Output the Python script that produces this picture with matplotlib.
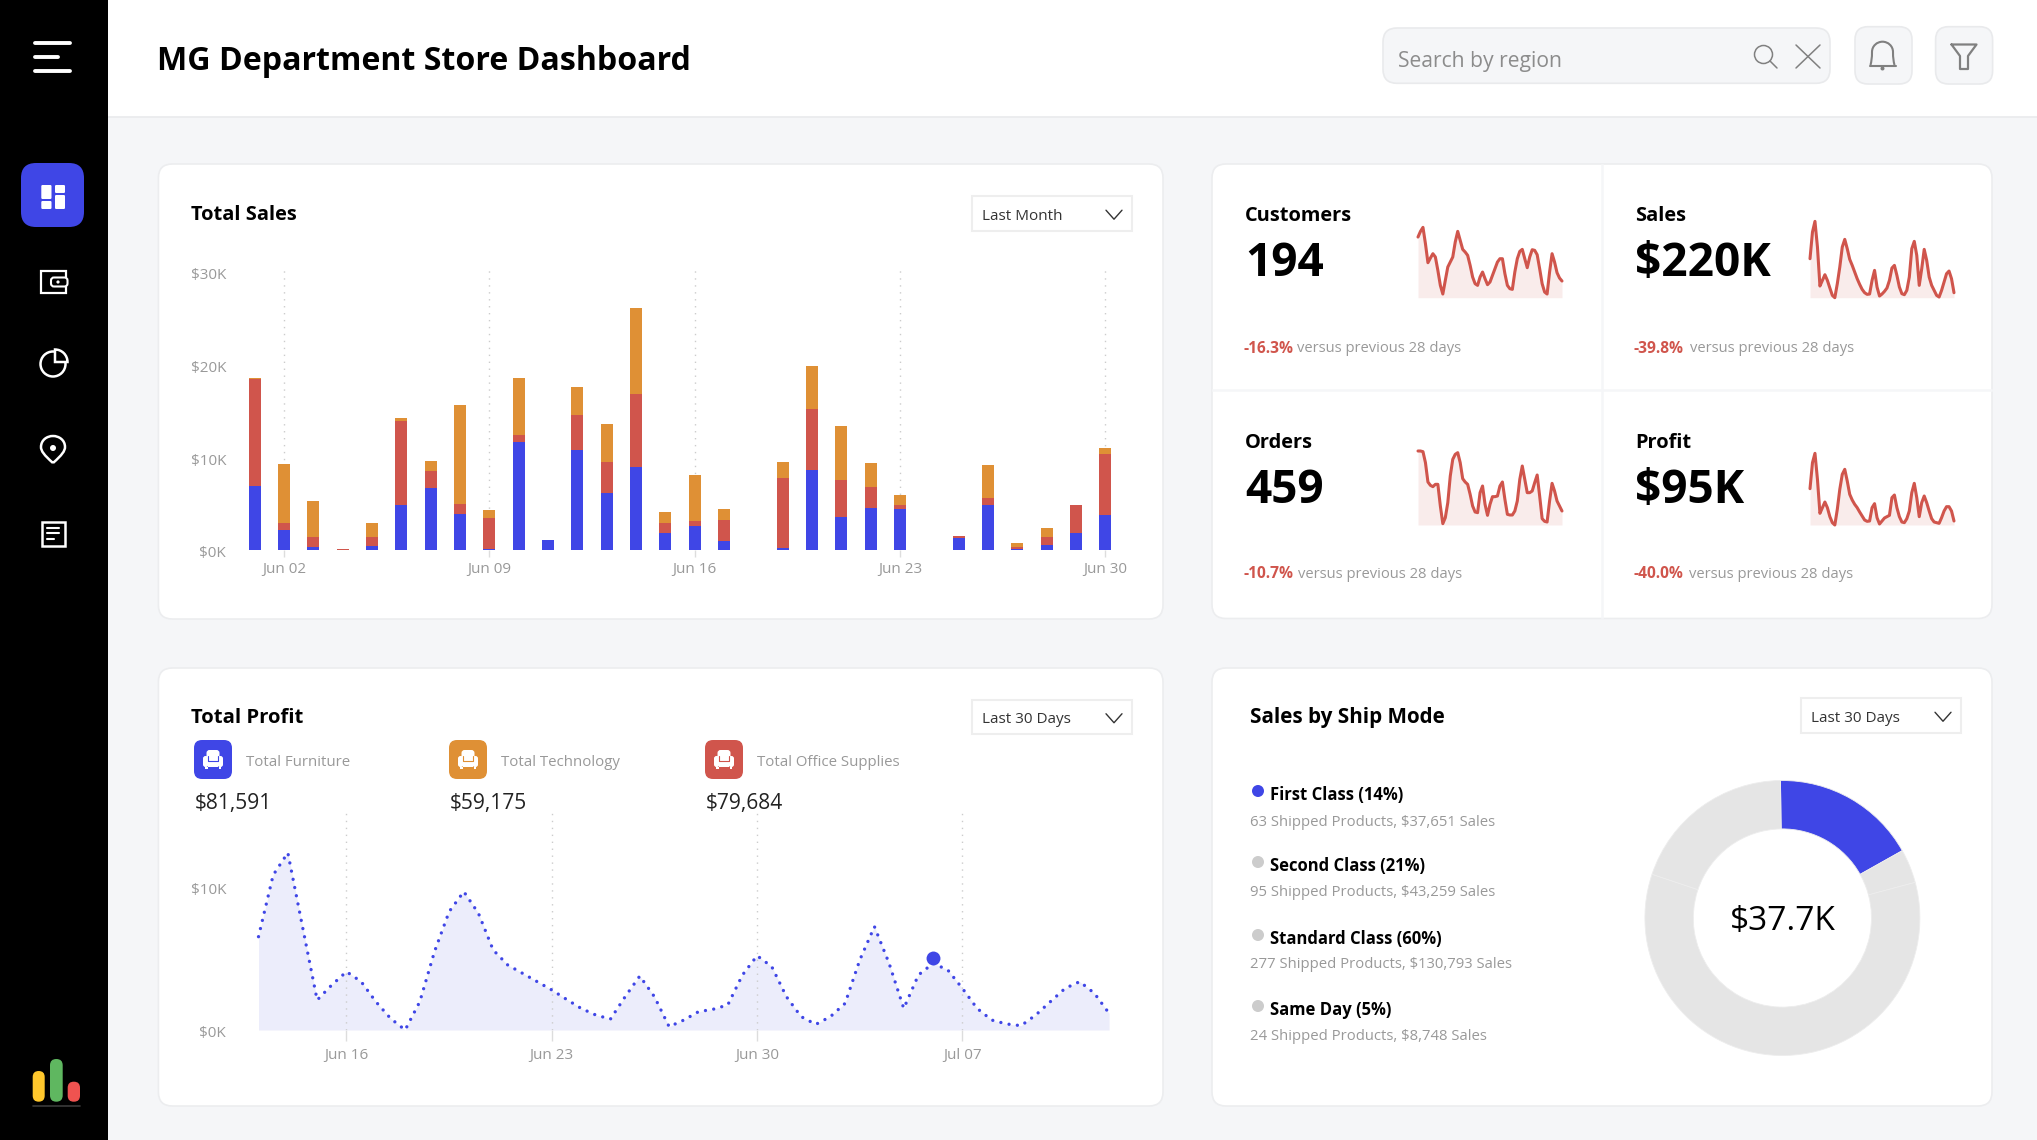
#!/usr/bin/env python3
import numpy as np
import matplotlib
matplotlib.use("Agg")
import matplotlib.pyplot as plt
from matplotlib.patches import FancyBboxPatch, Rectangle, Circle, Wedge, PathPatch
from matplotlib.path import Path
from matplotlib.transforms import ScaledTranslation

plt.rcParams['font.family'] = ['Open Sans', 'DejaVu Sans']

W, H = 2037, 1140

BLUE = '#3F46E6'
RED = '#D0554C'
ORANGE = '#DF9035'
GREY = '#999999'
LINE = '#ECEDEF'
BACK = '#F5F6F8'

# Total Sales, thousands of dollars per day in June
sales_days = list(range(1, 31))
sales_furniture = [6.9, 2.2, 0.3, 0.0, 0.45, 4.9, 6.65, 3.85, 0.1, 11.7, 1.08, 10.75, 6.2, 8.9, 1.8,
                   2.6, 0.95, 0.0, 0.25, 8.65, 3.55, 4.55, 4.45, 0.0, 1.3, 4.8, 0.1, 0.55, 1.8, 3.8]
sales_office = [11.5, 0.7, 1.1, 0.1, 1.0, 9.0, 1.9, 1.15, 3.4, 0.7, 0.0, 3.8, 3.25, 7.9, 1.15,
                0.55, 2.25, 0.05, 7.5, 6.6, 4.05, 2.25, 0.35, 0.0, 0.2, 0.85, 0.2, 0.85, 3.05, 6.6]
sales_technology = [0.15, 6.4, 3.9, 0.03, 1.5, 0.3, 1.1, 10.65, 0.85, 6.1, 0.0, 3.0, 4.15, 9.35, 1.1,
                    4.9, 1.2, 0.0, 1.75, 4.55, 5.75, 2.6, 1.1, 0.0, 0.05, 3.5, 0.45, 0.95, 0.05, 0.6]
sales_tick_days = [2, 9, 16, 23, 30]
sales_tick_labels = ['Jun 02', 'Jun 09', 'Jun 16', 'Jun 23', 'Jun 30']
sales_y_ticks = [0, 10, 20, 30]
sales_y_labels = ['$0K', '$10K', '$20K', '$30K']

# Total Profit, thousands of dollars, two readings per day from Jun 13
profit_values = [6.48, 10.76, 12.31, 7.18, 2.08, 3.13, 4.05, 3.36, 1.97, 0.81, 0.0, 1.97, 5.44, 8.22, 9.61,
                 8.10, 5.56, 4.51, 3.94, 3.36, 2.78, 2.13, 1.50, 1.04, 0.76, 2.31, 3.75, 2.31, 0.23, 0.69,
                 1.27, 1.44, 1.74, 3.82, 5.16, 4.40, 2.31, 0.93, 0.39, 0.93, 1.85, 4.86, 7.18, 4.63, 1.50,
                 3.82, 4.63, 4.17, 2.89, 1.50, 0.69, 0.42, 0.30, 1.04, 1.97, 2.89, 3.36, 2.55, 1.16]
profit_marker_day = 23
profit_marker_value = 5.02
profit_tick_days = [3, 10, 17, 24]
profit_tick_labels = ['Jun 16', 'Jun 23', 'Jun 30', 'Jul 07']
profit_y_ticks = [0, 10]
profit_y_labels = ['$0K', '$10K']

# KPI sparklines, read twice per day, no axis in the picture so units are arbitrary
spark_customers = [182, 199, 211, 162, 105, 119, 132, 122, 82, 37, 11, 52, 92, 107, 122, 167, 199, 172, 145, 137,
                   127, 97, 62, 42, 37, 62, 77, 57, 39, 47, 67, 87, 107, 117, 117, 72, 37, 27, 25, 77,
                   117, 139, 145, 117, 90, 122, 144, 142, 129, 87, 42, 17, 11, 77, 132, 107, 75, 59, 50]
spark_sales = [117, 197, 229, 152, 35, 52, 69, 52, 29, 7, 0, 42, 92, 152, 175, 147, 115, 97, 77, 57,
               40, 25, 15, 10, 11, 52, 82, 32, 5, 11, 19, 29, 52, 89, 97, 67, 32, 12, 9, 22,
               62, 147, 169, 127, 37, 87, 145, 112, 62, 37, 22, 7, 2, 22, 47, 72, 80, 57, 15]
spark_orders = [222, 222, 220, 187, 129, 119, 115, 122, 122, 57, 4, 22, 67, 147, 197, 212, 217, 187, 139, 129,
                122, 92, 57, 39, 37, 97, 117, 62, 29, 62, 85, 85, 87, 117, 129, 77, 32, 30, 30, 42,
                72, 137, 177, 137, 97, 97, 102, 127, 150, 87, 19, 11, 9, 72, 125, 102, 72, 57, 42]
spark_profit = [109, 187, 215, 137, 35, 52, 69, 52, 25, 7, 0, 47, 107, 152, 167, 132, 92, 75, 62, 52,
                39, 27, 15, 11, 12, 52, 64, 22, 3, 12, 21, 25, 29, 82, 90, 52, 25, 9, 7, 19,
                42, 97, 125, 82, 25, 67, 87, 67, 42, 19, 9, 7, 5, 22, 42, 55, 55, 42, 12]

# Ship mode, drawn in the order the ring has them
ring_sales = [37651, 8748, 130793, 43259]
ring_colors = [BLUE, '#E5E5E5', '#E5E5E5', '#E5E5E5']
ship_titles = ['First Class (14%)', 'Second Class (21%)', 'Standard Class (60%)', 'Same Day (5%)']
ship_details = ['63 Shipped Products, $37,651 Sales', '95 Shipped Products, $43,259 Sales',
                '277 Shipped Products, $130,793 Sales', '24 Shipped Products, $8,748 Sales']
ship_dots = [BLUE, '#CCCCCC', '#CCCCCC', '#CCCCCC']

fig = plt.figure(figsize=(W / 100, H / 100), dpi=100, facecolor=BACK)

# everything that is not a chart goes on this pixel sized layer
bg = fig.add_axes([0, 0, 1, 1])
bg.set_xlim(0, W)
bg.set_ylim(H, 0)
bg.axis('off')


def chart_axes(x0, y0, x1, y1):
    # y0 is the top edge in pixels
    ax = fig.add_axes([x0 / W, 1 - y1 / H, (x1 - x0) / W, (y1 - y0) / H])
    ax.patch.set_alpha(0)
    for s in ax.spines.values():
        s.set_visible(False)
    return ax


def box(x0, y0, x1, y1, r, fc='white', ec=LINE, lw=1.2, z=1):
    bg.add_patch(FancyBboxPatch((x0 + r, y0 + r), x1 - x0 - 2 * r, y1 - y0 - 2 * r,
                                boxstyle='round,pad=%f,rounding_size=%f' % (r, r),
                                fc=fc, ec=ec, lw=lw, zorder=z))


def txt(x, y, s, px, color='black', weight='normal', ha='left'):
    bg.text(x, y, s, fontsize=px * 0.72, color=color, fontweight=weight, ha=ha,
            va='center_baseline', zorder=5)


def seg(xs, ys, color='white', lw=2.0, z=4):
    bg.plot(xs, ys, color=color, lw=lw, solid_capstyle='round', solid_joinstyle='round', zorder=z)


def dropdown(x0, y0, x1, y1, label, label_x, chevron_x):
    bg.add_patch(Rectangle((x0, y0), x1 - x0, y1 - y0, fc='white', ec='#EEEEEE', lw=1.5, zorder=2))
    txt(label_x, (y0 + y1) / 2 + 1, label, 15.2, color='#333333')
    cy = (y0 + y1) / 2 + 1
    seg([chevron_x - 8, chevron_x, chevron_x + 8], [cy - 4, cy + 5, cy - 4], color='#333333', lw=1.0)


def chair(cx, cy, color):
    box(cx - 6.5, cy - 9, cx + 6.5, cy + 4, 3, fc='white', ec='none', lw=0, z=3)
    box(cx - 10, cy - 3, cx - 4.5, cy + 8, 2.5, fc='white', ec='none', lw=0, z=3)
    box(cx + 4.5, cy - 3, cx + 10, cy + 8, 2.5, fc='white', ec='none', lw=0, z=3)
    bg.add_patch(Rectangle((cx - 5, cy + 2), 10, 6, fc='white', ec='none', zorder=3))
    seg([cx - 4.7, cx - 4.7, cx + 4.7, cx + 4.7], [cy - 3, cy + 1.5, cy + 1.5, cy - 3], color=color, lw=0.8)
    bg.add_patch(Rectangle((cx - 8, cy + 8), 2.5, 1.8, fc='white', ec='none', zorder=3))
    bg.add_patch(Rectangle((cx + 5.5, cy + 8), 2.5, 1.8, fc='white', ec='none', zorder=3))


def nudge_y_labels(ax, px):
    # the tick labels sit a little under their ticks
    offset = ScaledTranslation(0, -px / 100, fig.dpi_scale_trans)
    for label in ax.get_yticklabels():
        label.set_transform(label.get_transform() + offset)


# header and sidebar
bg.add_patch(Rectangle((108, 0), W - 108, 116.5, fc='white', ec='none', zorder=0))
bg.plot([108, W], [116.5, 116.5], color='#E9EAEC', lw=1.2, zorder=1)
bg.add_patch(Rectangle((0, 0), 108.3, H, fc='black', ec='none', zorder=1))
txt(157, 58, 'MG Department Store Dashboard', 32.2, weight='bold')

seg([35, 70], [42.5, 42.5], lw=2.8)
seg([35, 58], [56.6, 56.6], lw=2.8)
seg([35, 70], [70.7, 70.7], lw=2.8)

box(21, 163, 84, 227, 15, fc=BLUE, ec='none', lw=0, z=2)
for tile in [(41.3, 185, 51.5, 199), (41.3, 201, 51.5, 209), (55, 185, 65, 193), (55, 195, 65, 209)]:
    box(tile[0], tile[1], tile[2], tile[3], 1.2, fc='white', ec='none', lw=0, z=3)

# wallet
bg.add_patch(Rectangle((41, 271), 25, 22, fc='black', ec='white', lw=1.6, zorder=3))
box(51, 277.5, 67.5, 286.5, 3, fc='black', ec='white', lw=1.5, z=4)
bg.add_patch(Circle((58, 282), 1.6, fc='white', ec='none', zorder=5))

# pie
bg.add_patch(Circle((53, 364), 12.5, fc='none', ec='white', lw=1.8, zorder=3))
bg.add_patch(Wedge((55, 362), 12.5, -90, 0, fc='black', ec='white', lw=1.8, zorder=4))

# pin
pin = Path([(53, 463), (44, 455), (41, 451), (41, 447), (41, 440), (47, 436), (53, 436),
            (59, 436), (65, 440), (65, 447), (65, 451), (62, 455), (53, 463)],
           [Path.MOVETO] + [Path.CURVE4] * 12)
bg.add_patch(PathPatch(pin, fc='none', ec='white', lw=1.8, zorder=3))
bg.add_patch(Circle((53, 448), 3, fc='white', ec='none', zorder=4))

# document
bg.add_patch(Rectangle((42, 521.5), 22.5, 24.5, fc='none', ec='white', lw=1.8, zorder=3))
seg([47, 59], [528, 528], lw=1.5)
seg([47, 59], [533, 533], lw=1.5)
seg([47, 54], [539, 539], lw=1.5)

# logo
box(32.7, 1071, 44.7, 1101.7, 6, fc='#FFC72C', ec='none', lw=0, z=3)
box(50, 1059, 62.7, 1101.7, 6.3, fc='#5FB760', ec='none', lw=0, z=3)
box(67.7, 1081.7, 80, 1101.7, 6, fc='#EF5350', ec='none', lw=0, z=3)
seg([33, 80], [1105.7, 1105.7], color='#3A3A3A', lw=1.2)

# search and buttons
box(1383, 28, 1830, 83.3, 14, fc=BACK, ec='#E9EAEC', z=2)
txt(1398, 59, 'Search by region', 21.2, color='#8C8C8C')
bg.add_patch(Circle((1763.5, 54.5), 9, fc='none', ec='#808080', lw=1.1, zorder=3))
seg([1770, 1777], [61, 68], color='#808080', lw=1.1)
seg([1796, 1820], [45, 68], color='#808080', lw=1.1)
seg([1796, 1820], [68, 45], color='#808080', lw=1.1)
box(1855, 26.7, 1912, 84, 13, fc=BACK, ec='#E9EAEC', z=2)
box(1935.6, 26.7, 1992.6, 84, 13, fc=BACK, ec='#E9EAEC', z=2)
bell = Path([(1870.5, 65), (1871.5, 61), (1872, 58), (1872, 52), (1872, 46), (1877, 41.7), (1882.5, 41.7),
             (1888, 41.7), (1893, 46), (1893, 52), (1893, 58), (1893.5, 61), (1894.5, 65)],
            [Path.MOVETO] + [Path.CURVE4] * 12)
bg.add_patch(PathPatch(bell, fc='none', ec='#808080', lw=1.5, zorder=3))
seg([1869.5, 1895.5], [65.5, 65.5], color='#808080', lw=1.5)
bg.add_patch(Circle((1882.5, 68.5), 2, fc='#808080', ec='none', zorder=3))
seg([1951.5, 1976.5, 1968, 1968, 1960, 1960, 1951.5], [44.5, 44.5, 56, 69, 69, 56, 44.5], color='#808080', lw=1.6)

# cards
box(158.4, 164, 1163, 619, 14)
box(158.4, 668, 1163, 1106, 14)
box(1212, 164, 1992, 618.5, 14)
box(1212, 668, 1992, 1106, 14)
bg.plot([1602, 1602], [165, 617], color=BACK, lw=1.8, zorder=2)
bg.plot([1213, 1991], [390, 390], color=BACK, lw=1.8, zorder=2)

# Total Sales
txt(191, 212.5, 'Total Sales', 20, weight='bold')
dropdown(971.6, 195.7, 1131.6, 230.7, 'Last Month', 982, 1114)

px_day = 29.33
ax = chart_axes(240, 270, 1120, 550)
ax.set_xlim(1 + (240 - 254.7) / px_day, 1 + (1120 - 254.7) / px_day)
ax.set_ylim(0, 30.2)
furniture = np.array(sales_furniture)
office = np.array(sales_office)
technology = np.array(sales_technology)
ax.bar(sales_days, furniture, width=0.41, color=BLUE, zorder=3)
ax.bar(sales_days, office, width=0.41, bottom=furniture, color=RED, zorder=3)
ax.bar(sales_days, technology, width=0.41, bottom=furniture + office, color=ORANGE, zorder=3)
ax.set_xticks(sales_tick_days, sales_tick_labels)
ax.set_yticks(sales_y_ticks, sales_y_labels)
ax.grid(axis='x', color='#CCCCCC', lw=1, ls=(0, (1, 4)), zorder=0)
ax.tick_params(axis='x', length=5, width=1, color='#DDDDDD', labelsize=11, labelcolor=GREY, pad=4)
ax.tick_params(axis='y', length=0, labelsize=11, labelcolor=GREY, pad=10)
nudge_y_labels(ax, 2)

# Total Profit
txt(191, 715.5, 'Total Profit', 20.3, weight='bold')
dropdown(971.6, 699.5, 1131.6, 734, 'Last 30 Days', 982, 1114)
for x, color, label, value in [(194, BLUE, 'Total Furniture', '$81,591'),
                               (449, ORANGE, 'Total Technology', '$59,175'),
                               (705, RED, 'Total Office Supplies', '$79,684')]:
    box(x, 740, x + 38, 779, 8, fc=color, ec='none', lw=0, z=2)
    chair(x + 19, 759, color)
    txt(x + 52, 761, label, 15, color=GREY)
    txt(x + 1, 801, value, 21, color='#222222')

profit_x = np.linspace(0, 29, len(profit_values))
ax = chart_axes(240, 813, 1120, 1030)
ax.set_xlim((240 - 258.5) / px_day, (1120 - 258.5) / px_day)
ax.set_ylim(0, 15.07)
ax.fill_between(profit_x, 0, profit_values, color='#ECEDFB', lw=0, zorder=1)
ax.plot(profit_x, profit_values, color=BLUE, lw=2.4, ls=(0, (0.01, 2.5)), dash_capstyle='round', zorder=3, clip_on=False)
ax.plot([profit_marker_day], [profit_marker_value], 'o', color=BLUE, ms=10, mew=0, zorder=4)
ax.set_xticks(profit_tick_days, profit_tick_labels)
ax.set_yticks(profit_y_ticks, profit_y_labels)
ax.grid(axis='x', color='#CCCCCC', lw=1, ls=(0, (1, 4)), zorder=2)
ax.tick_params(axis='x', length=8, width=1, color='#DDDDDD', labelsize=11, labelcolor=GREY, pad=5)
ax.tick_params(axis='y', length=0, labelsize=11, labelcolor=GREY, pad=10)
nudge_y_labels(ax, 2)

# KPI block
kpis = [(1245, 297.7, 'Customers', '194', '-16.3%', spark_customers, 1297),
        (1635, 297.7, 'Sales', '$220K', '-39.8%', spark_sales, 1689.6),
        (1245, 525, 'Orders', '459', '-10.7%', spark_orders, 1298),
        (1635, 525, 'Profit', '$95K', '-40.0%', spark_profit, 1688.6)]
for x, base, name, big, change, spark, versus_x in kpis:
    txt(x, base - 84.5, name, 20, weight='bold')
    txt(x, base - 40, big, 46, weight='bold')
    sub_y = base + 49 if base < 400 else base + 47.5
    txt(x - 1, sub_y, change, 15.5, color=RED, weight='bold')
    txt(versus_x, sub_y, 'versus previous 28 days', 14.7, color=GREY)
    sx0 = 1418 if x < 1400 else 1810
    ax = chart_axes(sx0, base - 80, sx0 + 144, base)
    ax.set_xlim(0, 58)
    ax.set_ylim(0, 240)
    ax.axis('off')
    ax.fill_between(range(len(spark)), 0, spark, color=RED, alpha=0.11, lw=0)
    ax.plot(range(len(spark)), spark, color=RED, lw=2.2, clip_on=False, solid_joinstyle='round', solid_capstyle='round')

# Sales by Ship Mode
txt(1250, 714.5, 'Sales by Ship Mode', 20.6, weight='bold')
dropdown(1801, 697.5, 1961, 733, 'Last 30 Days', 1811, 1943)
ship_y = [793, 864, 937, 1008]
detail_y = [820, 891, 963, 1035]
for i in range(4):
    bg.add_patch(Circle((1258, ship_y[i] - 2), 6, fc=ship_dots[i], ec='none', zorder=3))
    txt(1270, ship_y[i], ship_titles[i], 16.6, weight='bold')
    txt(1250, detail_y[i], ship_details[i], 14.85, color=GREY)

cx, cy, r = 1782.4, 918, 137.5
ax = chart_axes(cx - r, cy - r, cx + r, cy + r)
ax.pie(ring_sales, colors=ring_colors, startangle=90.8, counterclock=False, radius=1,
       wedgeprops={'width': 0.352, 'edgecolor': '#EDEDED', 'linewidth': 0.6})
ax.set_xlim(-1, 1)
ax.set_ylim(-1, 1)
txt(cx, 917, '$37.7K', 33.5, ha='center')

fig.savefig('out.png', dpi=100, facecolor=fig.get_facecolor())
